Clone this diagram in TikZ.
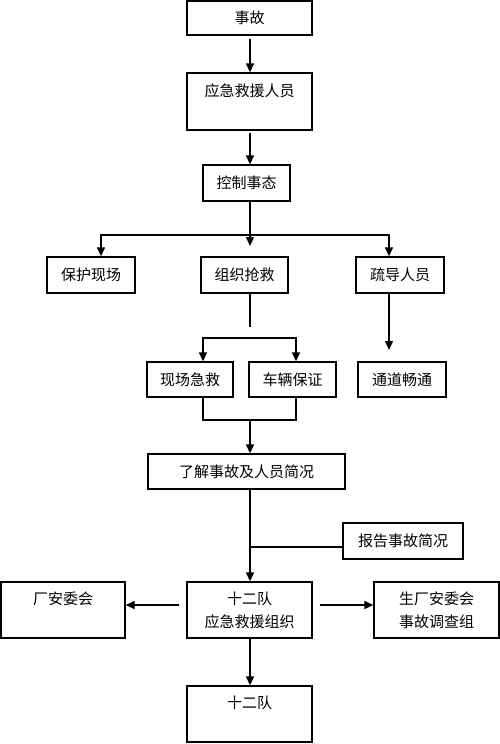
\documentclass[tikz,border=0pt]{standalone}
\usepackage{fontspec}
\setmainfont{Noto Sans CJK SC}
\usetikzlibrary{arrows.meta}
\begin{document}
\begin{tikzpicture}[x=1pt,y=-1pt,
  box/.style={draw,line width=1.3pt,inner sep=0pt,align=center,font=\fontsize{15}{23}\selectfont},
  arr/.style={-{Triangle[length=9pt,width=8pt]},line width=1.3pt},
  ln/.style={line width=1.3pt}]
\useasboundingbox (0,0) rectangle (500,744);
% boxes
\node[box,minimum width=125pt,minimum height=34pt] (acc) at (249.5,18) {事故};
\node[box,minimum width=125pt,minimum height=57pt] (resp) at (249.5,101.5) {应急救援人员\\~};
\node[box,minimum width=87pt,minimum height=36pt] (ctrl) at (246.5,183) {控制事态};
\node[box,minimum width=88pt,minimum height=36pt] (prot) at (91,275) {保护现场};
\node[box,minimum width=87pt,minimum height=36pt] (org) at (244.5,275) {组织抢救};
\node[box,minimum width=88pt,minimum height=36pt] (guide) at (400,275) {疏导人员};
\node[box,minimum width=86pt,minimum height=35pt] (firstaid) at (190,379.5) {现场急救};
\node[box,minimum width=87pt,minimum height=35pt] (vehicle) at (292.5,379.5) {车辆保证};
\node[box,minimum width=88pt,minimum height=35pt] (pass) at (402,379.5) {通道畅通};
\node[box,minimum width=197pt,minimum height=35pt] (under) at (246.5,471.5) {了解事故及人员简况};
\node[box,minimum width=120pt,minimum height=36pt] (report) at (403,541) {报告事故简况};
\node[box,minimum width=125pt,minimum height=56pt] (team) at (249.5,610) {十二队\\应急救援组织};
\node[box,minimum width=124pt,minimum height=56pt] (cmte) at (63,610) {厂安委会\\~};
\node[box,minimum width=125pt,minimum height=56pt] (invest) at (436.5,610) {生厂安委会\\事故调查组};
\node[box,minimum width=125pt,minimum height=56pt] (team2) at (249.5,714) {十二队\\~};
% junction coordinates
\coordinate (j1) at (250,235);
\coordinate (j1l) at (101,235);
\coordinate (j1r) at (389,235);
\coordinate (m1) at (250,246);
\coordinate (o1) at (250,327);
\coordinate (o2l) at (203,338);
\coordinate (o2r) at (296,338);
\coordinate (g1) at (389,350);
\coordinate (u1) at (250,420);
% connectors
\draw[arr,shorten <=3pt] (acc.south -| u1) -- (u1 |- resp.north);
\draw[arr,shorten <=2pt] (resp.south -| u1) -- (u1 |- ctrl.north);
\draw[arr] (ctrl.south -| j1) -- (m1);
\draw[ln,{Triangle[length=9pt,width=8pt]}-{Triangle[length=9pt,width=8pt]}] (j1l |- prot.north) -- (j1l) -- (j1r) -- (j1r |- guide.north);
\draw[ln] (org.south -| o1) -- (o1);
\draw[ln,{Triangle[length=9pt,width=8pt]}-{Triangle[length=9pt,width=8pt]}] (o2l |- firstaid.north) -- (o2l) -- (o2r) -- (o2r |- vehicle.north);
\draw[arr] (guide.south -| g1) -- (g1);
\draw[ln] (firstaid.south -| o2l) -- (o2l |- u1) -- (o2r |- u1) -- (vehicle.south -| o2r);
\draw[arr] (u1) -- (u1 |- under.north);
\draw[arr] (under.south -| u1) -- (u1 |- team.north);
\draw[ln] ([yshift=-6pt]report.west) -- ([yshift=-6pt]report.west -| u1);
\draw[arr] ([shift={(-7pt,5pt)}]team.west) -- ([yshift=5pt]team.west -| cmte.east);
\draw[arr] ([shift={(7pt,5pt)}]team.east) -- ([yshift=5pt]team.east -| invest.west);
\draw[arr] (team.south -| u1) -- (u1 |- team2.north);
\end{tikzpicture}
\end{document}
